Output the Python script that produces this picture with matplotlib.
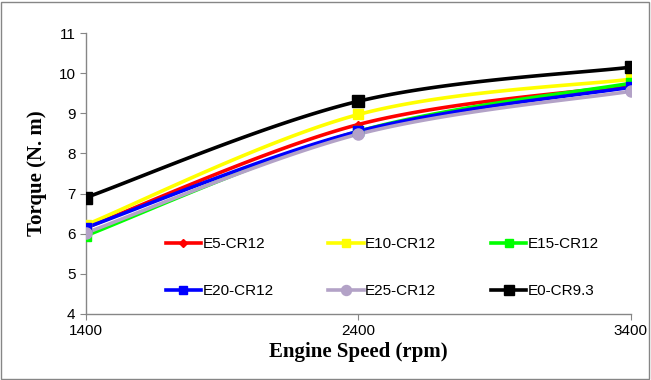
import numpy as np
import matplotlib
matplotlib.use("Agg")
from matplotlib import pyplot as plt
from matplotlib.patches import Rectangle

speed = [1400, 2400, 3400]
e5 = [6.15, 8.72, 9.70]
e10 = [6.22, 8.97, 9.85]
e15 = [5.95, 8.55, 9.75]
e20 = [6.15, 8.55, 9.65]
e25 = [6.02, 8.48, 9.55]
e0 = [6.90, 9.30, 10.15]

names = ['E5-CR12', 'E10-CR12', 'E15-CR12', 'E20-CR12', 'E25-CR12', 'E0-CR9.3']
colors = ['#ff0000', '#ffff00', '#00ff00', '#0000ff', '#b3a2c7', '#000000']
markers = ['D', 's', 's', 's', 'o', 's']
msizes = [4, 7, 7, 7, 8, 8]


def smooth(x, y, n=60):
	# excel-like smoothed line (catmull-rom bezier)
	x = np.asarray(x, float)
	y = np.asarray(y, float)
	px = np.concatenate([[x[0]], x, [x[-1]]])
	py = np.concatenate([[y[0]], y, [y[-1]]])
	xs, ys = [], []
	t = np.linspace(0, 1, n)
	for i in range(1, len(px) - 2):
		p0 = np.array([px[i], py[i]])
		p3 = np.array([px[i + 1], py[i + 1]])
		p1 = p0 + (np.array([px[i + 1], py[i + 1]]) - np.array([px[i - 1], py[i - 1]])) / 6
		p2 = p3 - (np.array([px[i + 2], py[i + 2]]) - np.array([px[i], py[i]])) / 6
		b = ((1 - t) ** 3)[:, None] * p0 + (3 * (1 - t) ** 2 * t)[:, None] * p1 \
			+ (3 * (1 - t) * t ** 2)[:, None] * p2 + (t ** 3)[:, None] * p3
		xs.append(b[:, 0])
		ys.append(b[:, 1])
	return np.concatenate(xs), np.concatenate(ys)


fig = plt.figure(figsize=(6.51, 3.80), dpi=100)
ax = fig.add_axes([0.132, 0.174, 0.837, 0.739])

series = [e5, e10, e15, e20, e25, e0]
handles = []
for vals, nm, c, m, ms in zip(series, names, colors, markers, msizes):
	sx, sy = smooth(speed, vals)
	ax.plot(sx, sy, color=c, lw=2.6, solid_capstyle='round', zorder=3)
	ax.plot(speed, vals, color=c, lw=0, marker=m, ms=ms, zorder=4)
	h, = ax.plot([], [], color=c, lw=2.6, marker=m, ms=ms * 0.9, label=nm)
	handles.append(h)

ax.set_xlim(1400, 3400)
ax.set_ylim(4, 11)
ax.set_xticks(speed)
ax.set_yticks(range(4, 12))
for s in ['top', 'right']:
	ax.spines[s].set_visible(False)
for s in ['left', 'bottom']:
	ax.spines[s].set_color('#868686')
	ax.spines[s].set_linewidth(1.0)
ax.tick_params(axis='both', colors='#868686', labelcolor='black', labelsize=11, length=4, direction='out')
for lab in ax.get_xticklabels() + ax.get_yticklabels():
	lab.set_family('Liberation Sans')

ax.set_xlabel('Engine Speed (rpm)', family='Liberation Serif', fontweight='bold', fontsize=15, labelpad=3)
ax.set_ylabel('Torque (N. m)', family='Liberation Serif', fontweight='bold', fontsize=15, labelpad=8)

# legend fills column by column, so reorder to read across rows
order = [0, 3, 1, 4, 2, 5]
leg = ax.legend([handles[i] for i in order], [names[i] for i in order], ncol=3, loc='center',
	bbox_to_anchor=(0.544, 0.165), frameon=False,
	prop={'family': 'Liberation Sans', 'size': 11}, handlelength=2.3, handletextpad=0.1,
	columnspacing=3.6, labelspacing=2.15)
leg.set_zorder(5)

fig.add_artist(Rectangle((0.002, 0.003), 0.995, 0.993, transform=fig.transFigure,
	fill=False, edgecolor='#868686', lw=1))

fig.savefig('out.png', dpi=100)
